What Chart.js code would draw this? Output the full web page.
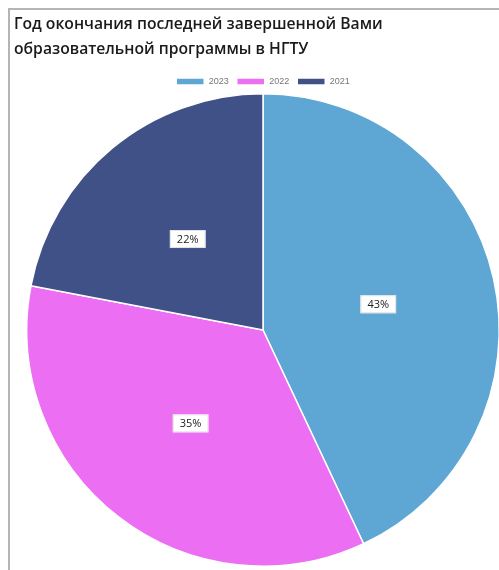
<!DOCTYPE html>
<html>
<head>
<meta charset="utf-8">
<script src="https://cdn.jsdelivr.net/npm/chart.js@4/dist/chart.umd.min.js"></script>
<style>
  html, body { margin: 0; padding: 0; background: #fff; overflow: hidden; }
  .frame {
    position: absolute; left: 8px; top: 8px;
    width: 560px; height: 620px;
    border: 2px solid #b4b4b4;
  }
  .wrap { position: absolute; left: 14px; top: 10px; width: 498px; height: 557px; }
</style>
</head>
<body>
<div class="frame"></div>
<div class="wrap"><canvas id="year-chart"></canvas></div>
<script>
const titleLines = ['Год окончания последней завершенной Вами', 'образовательной программы в НГТУ'];
const years = ['2023', '2022', '2021'];
const shares = [43, 35, 22];
const colors = ['#5ea7d5', '#eb6ef3', '#405188'];

// белые плашки с процентами поверх секторов
const percentLabels = {
  id: 'percentLabels',
  afterDatasetsDraw(chart) {
    const ctx = chart.ctx;
    const meta = chart.getDatasetMeta(0);
    ctx.save();
    ctx.font = '11px "Open Sans", sans-serif';
    ctx.textAlign = 'center';
    ctx.textBaseline = 'middle';
    meta.data.forEach((arc, i) => {
      const p = arc.tooltipPosition();
      const text = shares[i] + '%';
      const w = ctx.measureText(text).width + 14;
      const h = 18;
      ctx.fillStyle = '#fff';
      ctx.fillRect(p.x - w / 2, p.y - h / 2, w, h);
      ctx.strokeStyle = '#e2e2e2';
      ctx.lineWidth = 1;
      ctx.strokeRect(p.x - w / 2 + 0.5, p.y - h / 2 + 0.5, w - 1, h - 1);
      ctx.fillStyle = '#222';
      ctx.fillText(text, p.x, p.y + 0.5);
    });
    ctx.restore();
  }
};

// легенда поближе к кругу
const legendGap = {
  id: 'legendGap',
  beforeInit(chart) {
    const fit = chart.legend.fit;
    chart.legend.fit = function () {
      fit.bind(chart.legend)();
      this.height -= 3;
    };
  }
};

const yearChart = document.getElementById('year-chart');
new Chart(yearChart, {
  type: 'pie',
  data: {
    labels: years,
    datasets: [{
      data: shares,
      backgroundColor: colors,
      borderColor: '#fff',
      borderWidth: 1.5
    }]
  },
  options: {
    responsive: true,
    maintainAspectRatio: false,
    animation: false,
    layout: { padding: 0 },
    plugins: {
      title: {
        display: true,
        text: titleLines,
        align: 'start',
        color: '#1a1a1a',
        padding: { top: 3, bottom: 8 },
        font: { size: 15.7, weight: '600', family: 'Open Sans', lineHeight: 1.53 }
      },
      legend: {
        position: 'top',
        labels: {
          boxWidth: 28,
          boxHeight: 7,
          padding: 8,
          color: '#777',
          font: { size: 9, family: 'Liberation Sans' }
        }
      },
      tooltip: { enabled: false }
    }
  },
  plugins: [percentLabels, legendGap]
});
</script>
</body>
</html>
